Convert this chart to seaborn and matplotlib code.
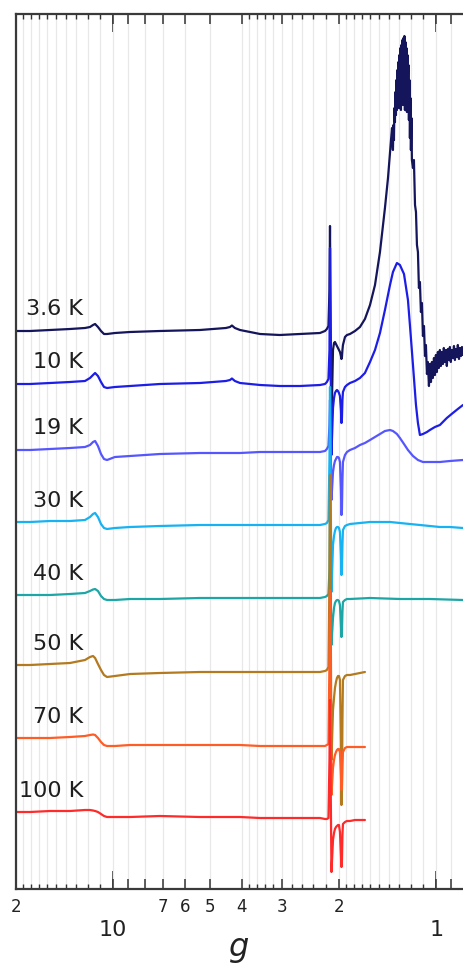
import matplotlib
matplotlib.use("Agg")
import matplotlib.pyplot as plt
import pandas as pd
import seaborn as sns
from matplotlib.ticker import FixedLocator, FixedFormatter, NullFormatter, NullLocator

# ---- temperatures, colours and vertical offsets of the stacked spectra ----
temps = ["3.6 K", "10 K", "19 K", "30 K", "40 K", "50 K", "70 K", "100 K"]
colors = ["#15155c", "#1d1de8", "#5656ff", "#16b2f2", "#1ea6a6", "#b37a1f", "#ff5d26", "#ff2a2a"]
offsets = [559, 506, 440, 367, 294, 224, 151, 77]

# ---- common g grid for the low-field part and the g ~ 2 region ----
g_scan = [20.0, 18.10, 15.70, 13.61, 12.23, 11.80, 11.55, 11.38, 11.15, 10.91,
          10.68, 10.45, 9.88, 8.87, 7.17, 5.39, 4.91, 4.48, 4.35, 4.29,
          4.20, 4.05, 3.51, 3.05, 2.64, 2.29, 2.21, 2.18, 2.156, 2.140,
          2.132, 2.125, 2.110, 2.087, 2.072, 2.058, 2.043, 2.029, 2.014, 2.000,
          1.986, 1.972, 1.965, 1.958, 1.951, 1.944, 1.916, 1.889, 1.849]

sig_3p6 = [-1, -1, 0, 1, 2, 3, 5, 6, 3, -1,
           -4, -4, -3, -2, -1, 0, 1, 2, 3, 4.5,
           2, 0, -4, -5, -4, -3, -1, 1, 4, 40,
           104, 30, -95, -20, -13, -12, -14, -16, -18, -20,
           -22, -26, -29, -27, -20, -15, -7, -5, -4]
sig_10 = [-1, -1, 0, 1, 2, 5, 8, 10, 7, 1,
          -4, -5, -4, -3, -1, 0, 1, 2, 3, 4.5,
          2, 0, -2, -3, -3, -2, -1, 1, 4, 33,
          135, 43, -72, -25, -15, -10, -8, -7, -8, -10,
          -13, -27, -40, -35, -17, -9, -4, -2, 0]
sig_19 = [-1, -1, 0, 1, 2, 4, 7, 8, 3, -5,
          -10, -11, -8, -7, -5, -4, -4, -4, -4, -4,
          -4, -4, -3, -3, -3, -3, -2, 0, 3, 24,
          49, 19, -51, -23, -16, -12, -10, -8, -8, -9,
          -13, -41, -66, -61, -31, -13, -6, -3, -1]
sig_30 = [0, 0, 1, 1, 2, 5, 8, 9, 5, -2,
          -6, -7, -6, -5, -4, -3, -3, -3, -3, -3,
          -3, -3, -3, -3, -3, -3, -2, -1, 2, 62,
          135, 62, -70, -23, -14, -9, -6, -5, -5, -6,
          -10, -33, -53, -48, -23, -8, -4, -3, -2]
sig_40 = [0, 0, 0, 1, 2, 4, 5.5, 6, 4, -1,
          -4, -5, -5, -4, -4, -3, -3, -3, -3, -3,
          -3, -3, -3, -3, -3, -3, -2, -1, 1, 25,
          95, 25, -50, -23, -13, -8, -6, -5, -5, -6,
          -10, -30, -42, -37, -17, -7, -5, -4, -4]
sig_50 = [0, 0, 1, 2, 5, 8, 9, 7, 1, -5,
          -10, -12, -11, -9, -8, -7, -7, -7, -7, -7,
          -7, -7, -7, -7, -7, -7, -6, -5, -2, 85,
          190, 95, -95, -45, -33, -23, -17, -13, -11, -11,
          -15, -75, -140, -125, -55, -15, -11, -10, -10]
sig_70 = [0, 0, 0, 1, 2, 3, 3.5, 3, 0, -4,
          -7, -8, -8, -7, -7, -7, -7, -7, -7, -7,
          -7, -7, -8, -8, -8, -8, -8, -7, -6, 78,
          148, 78, -57, -30, -22, -17, -14, -12, -11, -11,
          -14, -37, -52, -47, -27, -14, -10, -9, -9]
sig_100 = [0, 0, 1, 1, 2, 2, 1.5, 1, 0, -2,
           -4, -5, -5, -5, -4, -5, -5, -5, -5, -5,
           -5, -5, -6, -6, -6, -6, -7, -7, -6, 52,
           112, 52, -60, -28, -21, -17, -15, -14, -13, -13,
           -20, -43, -55, -48, -23, -12, -10, -9, -9]

# ---- high-field tails (g < 1.85) ----
g_tail_3p6 = [1.784, 1.722, 1.662, 1.603, 1.547, 1.493, 1.441, 1.410, 1.390,
              1.380, 1.370,
              1.3612, 1.3564, 1.3515, 1.3467, 1.3419, 1.3372, 1.3324, 1.3277,
              1.3230, 1.3183, 1.3136, 1.3089, 1.3043, 1.2996, 1.2950, 1.2904,
              1.2858, 1.2813, 1.2767, 1.2722, 1.2677, 1.2632, 1.2587, 1.2542,
              1.2497, 1.2453, 1.2409, 1.2365, 1.2321, 1.2277, 1.2233, 1.2190,
              1.2146, 1.2103, 1.2060, 1.2017, 1.1975, 1.1932, 1.1890,
              1.180, 1.172, 1.163, 1.155, 1.147, 1.139, 1.131, 1.123,
              1.115, 1.107, 1.099, 1.091, 1.083, 1.076, 1.068, 1.061, 1.053, 1.046,
              1.038, 1.031, 1.024, 1.016, 1.009, 1.002, 0.995, 0.988, 0.981, 0.974,
              0.967, 0.960, 0.953, 0.947, 0.940, 0.933, 0.927, 0.920, 0.914, 0.907,
              0.901, 0.894, 0.888, 0.881, 0.875, 0.869, 0.863, 0.857, 0.850, 0.844,
              0.838, 0.832, 0.826]
tail_3p6 = [-1, 3, 11, 25, 45, 78, 122, 152, 178,
            190, 202,
            180, 205, 190, 222, 208, 238, 215, 250,
            220, 260, 230, 268, 222, 275, 235, 282,
            220, 285, 240, 290, 225, 292, 250, 294,
            220, 288, 230, 282, 218, 275, 235, 265,
            210, 250, 192, 232, 180, 212, 170,
            162, 170, 125, 118, 85, 78, 42, 48,
            18, 27, -6, 4, -26, -15, -44, -32, -56, -34,
            -52, -32, -48, -28, -45, -25, -42, -22, -38, -20,
            -36, -22, -34, -18, -32, -20, -36, -19, -30, -17,
            -32, -20, -28, -16, -30, -19, -27, -15, -29, -18,
            -26, -17, -25]

g_tail_10 = [1.784, 1.722, 1.662, 1.603, 1.547, 1.493, 1.441, 1.390, 1.361, 1.323,
             1.295, 1.258, 1.223, 1.206, 1.180, 1.155, 1.139, 1.123, 1.099, 1.068,
             1.046, 1.009, 0.974, 0.927, 0.888, 0.857, 0.826]
tail_10 = [2, 5, 10, 21, 33, 50, 73, 98, 111, 120,
           118, 109, 83, 58, 18, -22, -40, -52, -51, -49,
           -47, -44, -42, -35, -30, -26, -22]

g_tail_19 = [1.784, 1.722, 1.662, 1.603, 1.547, 1.493, 1.441, 1.390, 1.361, 1.323,
             1.295, 1.258, 1.223, 1.180, 1.139, 1.099, 1.046, 0.974, 0.907, 0.826]
tail_19 = [1, 4, 6, 9, 12, 15, 18, 19, 18, 15,
           11, 5, -1, -7, -11, -13, -13, -13, -12, -11]

g_tail_30 = [1.722, 1.603, 1.493, 1.390, 1.295, 1.206, 1.123, 1.046, 0.974, 0.907, 0.826]
tail_30 = [-1, 0, 0, 0, -1, -2, -3, -4, -5, -5, -6]

g_tail_40 = [1.603, 1.295, 1.046, 0.826]
tail_40 = [-3, -4, -4, -5]

g_tail_short = [1.784, 1.722, 1.662]
tail_50 = [-9, -8, -7]
tail_70 = [-9, -9, -9]
tail_100 = [-8, -8, -8]

main_signals = [sig_3p6, sig_10, sig_19, sig_30, sig_40, sig_50, sig_70, sig_100]
tail_grids = [g_tail_3p6, g_tail_10, g_tail_19, g_tail_30, g_tail_40,
              g_tail_short, g_tail_short, g_tail_short]
tail_signals = [tail_3p6, tail_10, tail_19, tail_30, tail_40, tail_50, tail_70, tail_100]

# ---- axis ticks ----
mid_ticks = [20, 9, 8, 7, 6, 5, 4, 3, 2, 0.9, 10, 1]
mid_labels = ["2", "", "", "7", "6", "5", "4", "3", "2", "", "", ""]
small_ticks = [19, 18, 17, 16, 15, 14, 13, 12, 11,
               3.8, 3.6, 3.4, 3.2, 2.8, 2.6, 2.4, 2.2,
               1.9, 1.8, 1.7, 1.6, 1.5, 1.4, 1.3, 1.2, 1.1]
decade_ticks = [10, 1]
decade_labels = ["10", "1"]

sns.set_theme(style="white")
plt.rcParams["font.family"] = ["DejaVu Sans"]

W, H = 463, 969
fig = plt.figure(figsize=(W / 100, H / 100), dpi=100)
ax = fig.add_axes([16 / W, 1 - 889 / H, (W - 16) / W, (889 - 14) / H])
ax.set_xscale("log")

for label, color, off, sig, g_tail, tail in zip(temps, colors, offsets, main_signals,
                                                 tail_grids, tail_signals):
    df = pd.DataFrame({"g": g_scan + g_tail,
                       "y": [off + v for v in sig + tail]})
    sns.lineplot(data=df, x="g", y="y", ax=ax, color=color, lw=1.6,
                 sort=False, estimator=None)
    ax.text(12.4, off + 21, label, ha="right", va="center", fontsize=16,
            color="#1e1e1e")

ax.set_xlim(20, 0.826)
ax.set_ylim(0, 875)
ax.set_yticks([])
ax.set_ylabel("")

ax.xaxis.set_major_locator(FixedLocator(mid_ticks))
ax.xaxis.set_major_formatter(FixedFormatter(mid_labels))
ax.xaxis.set_minor_locator(FixedLocator(small_ticks))
ax.xaxis.set_minor_formatter(NullFormatter())
ax.tick_params(axis="x", which="major", direction="in", length=7, width=1.1,
               top=True, bottom=True, labelsize=12, pad=6.5, colors="#333333",
               labelcolor="#222222")
ax.tick_params(axis="x", which="minor", direction="in", length=3.5, width=1.0,
               top=True, bottom=True, colors="#333333")
ax.grid(axis="x", which="both", color="#e8e8e8", lw=0.9)
ax.grid(axis="y", visible=False)
ax.set_axisbelow(True)

for side in ["left", "bottom", "top"]:
    ax.spines[side].set_visible(True)
    ax.spines[side].set_color("#3a3a3a")
    ax.spines[side].set_linewidth(1.6)
ax.spines["right"].set_visible(False)

# decade ticks: longer marks with larger labels
sec_b = ax.secondary_xaxis("bottom")
sec_b.xaxis.set_major_locator(FixedLocator(decade_ticks))
sec_b.xaxis.set_major_formatter(FixedFormatter(decade_labels))
sec_b.xaxis.set_minor_locator(NullLocator())
sec_b.tick_params(axis="x", direction="in", length=13, width=1.2, labelsize=16,
                  pad=22, colors="#333333", labelcolor="#222222")
sec_b.spines["bottom"].set_visible(False)

sec_t = ax.secondary_xaxis("top")
sec_t.xaxis.set_major_locator(FixedLocator(decade_ticks))
sec_t.xaxis.set_major_formatter(NullFormatter())
sec_t.xaxis.set_minor_locator(NullLocator())
sec_t.tick_params(axis="x", direction="in", length=13, width=1.2, colors="#333333")
sec_t.spines["top"].set_visible(False)

ax.set_xlabel("g", fontsize=23, style="italic", color="#222222")
ax.xaxis.set_label_coords(0.5, -0.049)
ax.xaxis.label.set_va("top")

fig.savefig("out.png", dpi=100)
